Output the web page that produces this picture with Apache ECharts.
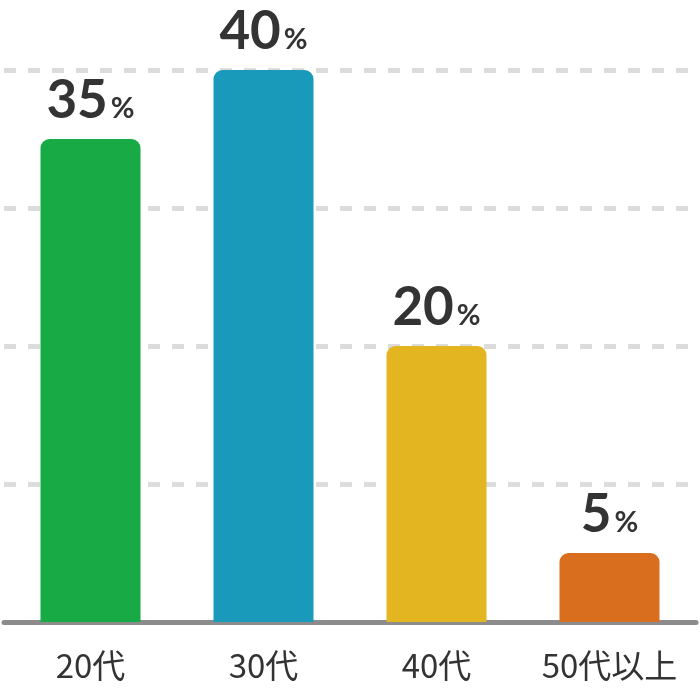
<!DOCTYPE html>
<html>
<head>
<meta charset="utf-8">
<script src="https://cdn.jsdelivr.net/npm/echarts@6/dist/echarts.min.js"></script>
<style>
  html, body { margin: 0; padding: 0; background: #fff; }
  #chart { width: 700px; height: 700px; }
</style>
</head>
<body>
<div id="chart"></div>
<script>
// 年代別の割合
const categories = ['20代', '30代', '40代', '50代以上'];
const values = [35, 40, 20, 5];
const barColors = ['#18aa45', '#1a9aba', '#e3b520', '#d96f1e'];
const yTicks = [0, 10, 20, 30, 40];

const chart = echarts.init(document.getElementById('chart'));

const option = {
    animation: false,
    grid: {
        left: 4,
        right: 4,
        top: 1,
        bottom: 78
    },
    xAxis: {
        type: 'category',
        data: categories,
        axisLine: {
            lineStyle: { color: '#8c8c8c', width: 5 }
        },
        axisTick: { show: false },
        axisLabel: {
            interval: 0,
            color: '#333333',
            fontSize: 33,
            fontFamily: '"Noto Sans CJK JP", sans-serif',
            margin: 27
        }
    },
    yAxis: {
        type: 'value',
        min: yTicks[0],
        max: 45,
        interval: 10,
        axisLine: { show: false },
        axisTick: { show: false },
        axisLabel: { show: false },
        splitLine: {
            showMaxLine: false,
            lineStyle: {
                color: '#dcdcdc',
                width: 5,
                type: [12, 12]
            }
        }
    },
    series: [
        {
            type: 'bar',
            barWidth: 100,
            data: values.map((v, i) => ({
                value: v,
                itemStyle: { color: barColors[i] }
            })),
            itemStyle: {
                borderRadius: [9, 9, 0, 0]
            },
            label: {
                show: true,
                position: 'top',
                distance: 12,
                formatter: function (p) {
                    return '{num|' + p.value + '}{pct|%}';
                },
                rich: {
                    num: {
                        fontFamily: 'Lato, sans-serif',
                        fontWeight: 'bold',
                        fontSize: 53,
                        color: '#333333',
                        lineHeight: 53
                    },
                    pct: {
                        fontFamily: 'Lato, sans-serif',
                        fontWeight: 'bold',
                        fontSize: 29,
                        color: '#333333',
                        lineHeight: 34,
                        verticalAlign: 'bottom',
                        padding: [0, 0, 4, 3]
                    }
                }
            }
        }
    ]
};

chart.setOption(option);
</script>
</body>
</html>
